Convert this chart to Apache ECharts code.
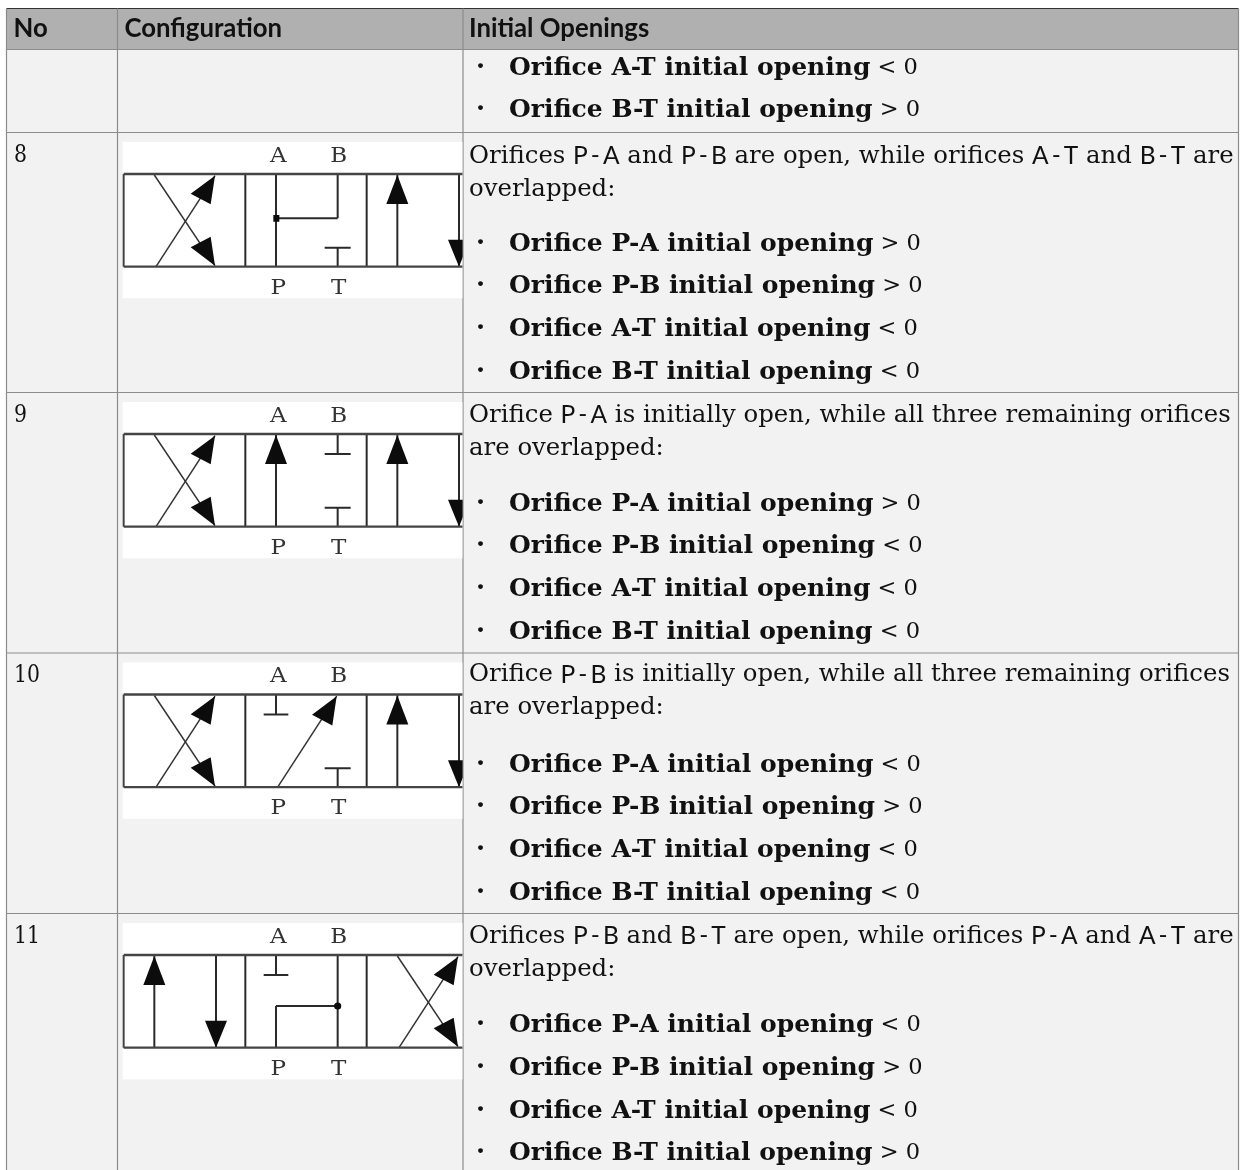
<!DOCTYPE html>
<html><head><meta charset="utf-8">
<style>html,body{margin:0;padding:0;background:#fff}#c{width:1243px;height:1170px}</style>
<script src="https://cdn.jsdelivr.net/npm/echarts@6/dist/echarts.min.js"></script>
</head><body><div id="c"></div>
<script>
// ---- content ----
const columnHeaders = ['No', 'Configuration', 'Initial Openings'];
const rowNumbers = ['', '8', '9', '10', '11'];
const introLines = [
  [],
  ['Orifices {s|P\u2009-\u2009A} and {s|P\u2009-\u2009B} are open, while orifices {s|A\u2009-\u2009T} and {s|B\u2009-\u2009T} are', 'overlapped:'],
  ['Orifice {s|P\u2009-\u2009A} is initially open, while all three remaining orifices', 'are overlapped:'],
  ['Orifice {s|P\u2009-\u2009B} is initially open, while all three remaining orifices', 'are overlapped:'],
  ['Orifices {s|P\u2009-\u2009B} and {s|B\u2009-\u2009T} are open, while orifices {s|P\u2009-\u2009A} and {s|A\u2009-\u2009T} are', 'overlapped:']
];
const bulletOrifices = [
  ['A-T', 'B-T'],
  ['P-A', 'P-B', 'A-T', 'B-T'],
  ['P-A', 'P-B', 'A-T', 'B-T'],
  ['P-A', 'P-B', 'A-T', 'B-T'],
  ['P-A', 'P-B', 'A-T', 'B-T']
];
const bulletSigns = [
  ['<', '>'],
  ['>', '>', '<', '<'],
  ['>', '<', '<', '<'],
  ['<', '>', '<', '<'],
  ['<', '>', '<', '>']
];
const portLabels = ['A', 'B', 'P', 'T'];
const diagramLeft = ['', 'cross', 'cross', 'cross', 'arrows'];
const diagramMiddle = ['', 'PAB_AT', 'PA', 'PB', 'PBT'];
const diagramRight = ['', 'arrows', 'arrows', 'arrows', 'cross'];

// ---- layout ----
const W = 1243, H = 1170;
const colX = [6.5, 117.5, 463, 1238.5];
const rowY = [49.5, 132.5, 392.5, 653, 913.5, 1171];
const headTop = 8.5;
const boxTop = [0, 174, 434, 694.5, 955];
const GRID = '#8c8c8c';
const SERIF = '"DejaVu Serif"', SANS = 'Lato';
const introOffset = [[], [24, 57], [23, 56], [22, 55], [23, 56]];
const bulletOffset = [[19, 61], [112, 154, 197, 240], [112, 154, 197, 240], [112, 154, 197, 240], [112, 155, 198, 240]];
const bodySize = 24.4;
const rich = {
  s: {fontFamily: SANS, fontSize: 24.5, fill: '#111'},
  b: {fontFamily: SERIF, fontWeight: 'bold', fontSize: 25, fill: '#111'},
  r: {fontFamily: SERIF, fontSize: 22.5, fill: '#111'}
};

function textEl(api, x, y, text, o) {
  const p = api.coord([x, y]);
  return {type: 'text', x: p[0], y: p[1], scaleX: (o && o.scaleX) || 1, z2: 20,
    style: Object.assign({text: text, fill: '#111', font: bodySize + 'px ' + SERIF,
      textAlign: 'left', textVerticalAlign: 'middle', verticalAlign: 'middle', rich: rich}, o && o.style)};
}

// cells
function cellsItem(params, api) {
  const kids = [];
  const rect = (x0, y0, x1, y1, fill) => {
    const a = api.coord([x0, y0]), b = api.coord([x1, y1]);
    kids.push({type: 'rect', shape: {x: a[0], y: a[1], width: b[0] - a[0], height: b[1] - a[1]}, style: {fill: fill}, silent: true});
  };
  const seg = (x0, y0, x1, y1, c, w) => {
    const a = api.coord([x0, y0]), b = api.coord([x1, y1]);
    kids.push({type: 'line', shape: {x1: a[0], y1: a[1], x2: b[0], y2: b[1]}, style: {stroke: c, lineWidth: w}, z2: 30});
  };
  rect(colX[0], headTop, colX[3], rowY[0], '#b0b0b0');
  rect(colX[0], rowY[0], colX[3], H, '#f2f2f2');
  seg(colX[0], headTop, colX[3], headTop, '#333', 1.2);
  rowY.slice(0, 5).forEach(y => seg(colX[0], y, colX[3], y, GRID, 1.2));
  colX.forEach(x => seg(x, headTop, x, H, GRID, 1.2));
  return {type: 'group', children: kids};
}

// one hydraulic symbol, drawn in 3x-crop units relative to the box
function diagramItem(params, api) {
  const r = api.value(0);
  const top = boxTop[r];
  const P = (u, v) => api.coord([110 + u / 3, top + (v - 117) / 3]);
  const kids = [];
  const L = (u0, v0, u1, v1, w, c) => { const a = P(u0, v0), b = P(u1, v1);
    kids.push({type: 'line', shape: {x1: a[0], y1: a[1], x2: b[0], y2: b[1]}, style: {stroke: c || '#2a2a2a', lineWidth: w || 2}}); };
  const Poly = pts => kids.push({type: 'polygon', shape: {points: pts.map(q => P(q[0], q[1]))}, style: {fill: '#0c0c0c'}});
  const a0 = P(38, 21), a1 = P(1058, 490);
  kids.push({type: 'rect', shape: {x: a0[0], y: a0[1], width: a1[0] - a0[0], height: a1[1] - a0[1]}, style: {fill: '#fff'}});
  const upA = u => { L(u, 117, u, 395); Poly([[u, 120], [u + 33, 207], [u - 33, 207]]); };
  const dnA = u => { L(u, 117, u, 395); Poly([[u - 33, 314], [u + 33, 314], [u, 395]]); };
  const cross = d => {
    L(133 + d, 120, 315 + d, 392, 1.5, '#333'); L(315 + d, 122, 138 + d, 395, 1.5, '#333');
    Poly([[315 + d, 122], [242 + d, 176], [302 + d, 208]]);
    Poly([[315 + d, 392], [242 + d, 337], [302 + d, 305]]);
  };
  const blockArrows = d => { upA(133 + d); dnA(318 + d); };
  const teeTop = (u, h) => { L(u, 117, u, 177); L(u - h, 177, u + h, 177); };
  const teeBot = u => { L(u, 395, u, 338); L(u - 39, 338, u + 39, 338); };
  if (diagramLeft[r] === 'cross') cross(0); else blockArrows(0);
  if (diagramRight[r] === 'cross') cross(729); else { upA(862); dnA(1047); }
  L(406, 117, 406, 395); L(770, 117, 770, 395);
  const mid = diagramMiddle[r];
  if (mid === 'PAB_AT') {
    L(498, 117, 498, 395); L(683, 117, 683, 250); L(498, 250, 683, 250); teeBot(683);
    const q = P(490, 240), s = P(508, 260);
    kids.push({type: 'rect', shape: {x: q[0], y: q[1], width: s[0] - q[0], height: s[1] - q[1]}, style: {fill: '#0c0c0c'}});
  } else if (mid === 'PA') {
    upA(498); teeTop(683, 39); teeBot(683);
  } else if (mid === 'PB') {
    teeTop(498, 37); teeBot(683);
    L(503, 395, 680, 122, 1.5, '#333'); Poly([[680, 122], [606, 178], [667, 210]]);
  } else {
    teeTop(498, 37); L(683, 117, 683, 395); L(498, 270, 683, 270); L(498, 270, 498, 395);
    const c = P(683, 270);
    kids.push({type: 'circle', shape: {cx: c[0], cy: c[1], r: 3.6}, style: {fill: '#0c0c0c'}});
  }
  L(41, 117, 1058, 117, 2.4, '#444'); L(41, 395, 1058, 395, 2.4, '#444'); L(41, 117, 41, 395, 2, '#444');
  const labelU = [505, 686, 505, 686], labelV = [65, 65, 460, 460];
  portLabels.forEach((t, i) => {
    const p = P(labelU[i], labelV[i]);
    kids.push({type: 'text', x: p[0], y: p[1], scaleX: 1.15, style: {text: t, fill: '#333', font: '20px ' + SERIF, textAlign: 'center', verticalAlign: 'middle'}});
  });
  const clipA = P(30, 0), clipB = P(1058, 500);
  return {type: 'group', children: kids,
    clipPath: {type: 'rect', shape: {x: clipA[0], y: clipA[1], width: clipB[0] - clipA[0], height: clipB[1] - clipA[1]}}};
}

// text
function textItem(params, api) {
  const kids = [];
  const heads = [colX[0] + 7, colX[1] + 7, colX[2] + 6];
  columnHeaders.forEach((t, i) => kids.push(textEl(api, heads[i], 28.5, t, {
    scaleX: 0.99, style: {font: 'bold 26px ' + SANS, fill: '#111'}})));
  rowNumbers.forEach((no, r) => {
    const top = rowY[r];
    if (no) kids.push(textEl(api, 14, top + 23, no, {scaleX: 0.85, style: {font: '24px ' + SERIF}}));
    introLines[r].forEach((line, k) => kids.push(textEl(api, 469, top + introOffset[r][k], line)));
    bulletOrifices[r].forEach((o, k) => {
      const y = top + bulletOffset[r][k];
      kids.push(textEl(api, 476, y, '\u00B7', {style: {font: 'bold 26px ' + SERIF}}));
      kids.push(textEl(api, 509, y, '{b|Orifice ' + o + ' initial opening}{r| ' + bulletSigns[r][k] + ' 0}'));
    });
  });
  return {type: 'group', children: kids};
}

const chart = echarts.init(document.getElementById('c'), null, {renderer: 'canvas', width: W, height: H});
chart.setOption({
  animation: false,
  backgroundColor: '#fff',
  grid: {left: 0, right: 0, top: 0, bottom: 0, containLabel: false},
  xAxis: {type: 'value', min: 0, max: W, show: false},
  yAxis: {type: 'value', min: 0, max: H, inverse: true, show: false},
  tooltip: {show: false},
  series: [
    {type: 'custom', silent: true, coordinateSystem: 'cartesian2d', data: [[0]], renderItem: cellsItem, z: 1, clip: false},
    {type: 'custom', silent: true, coordinateSystem: 'cartesian2d', data: [[1], [2], [3], [4]], renderItem: diagramItem, z: 2, clip: false},
    {type: 'custom', silent: true, coordinateSystem: 'cartesian2d', data: [[0]], renderItem: textItem, z: 3, clip: false}
  ]
});
</script></body></html>
